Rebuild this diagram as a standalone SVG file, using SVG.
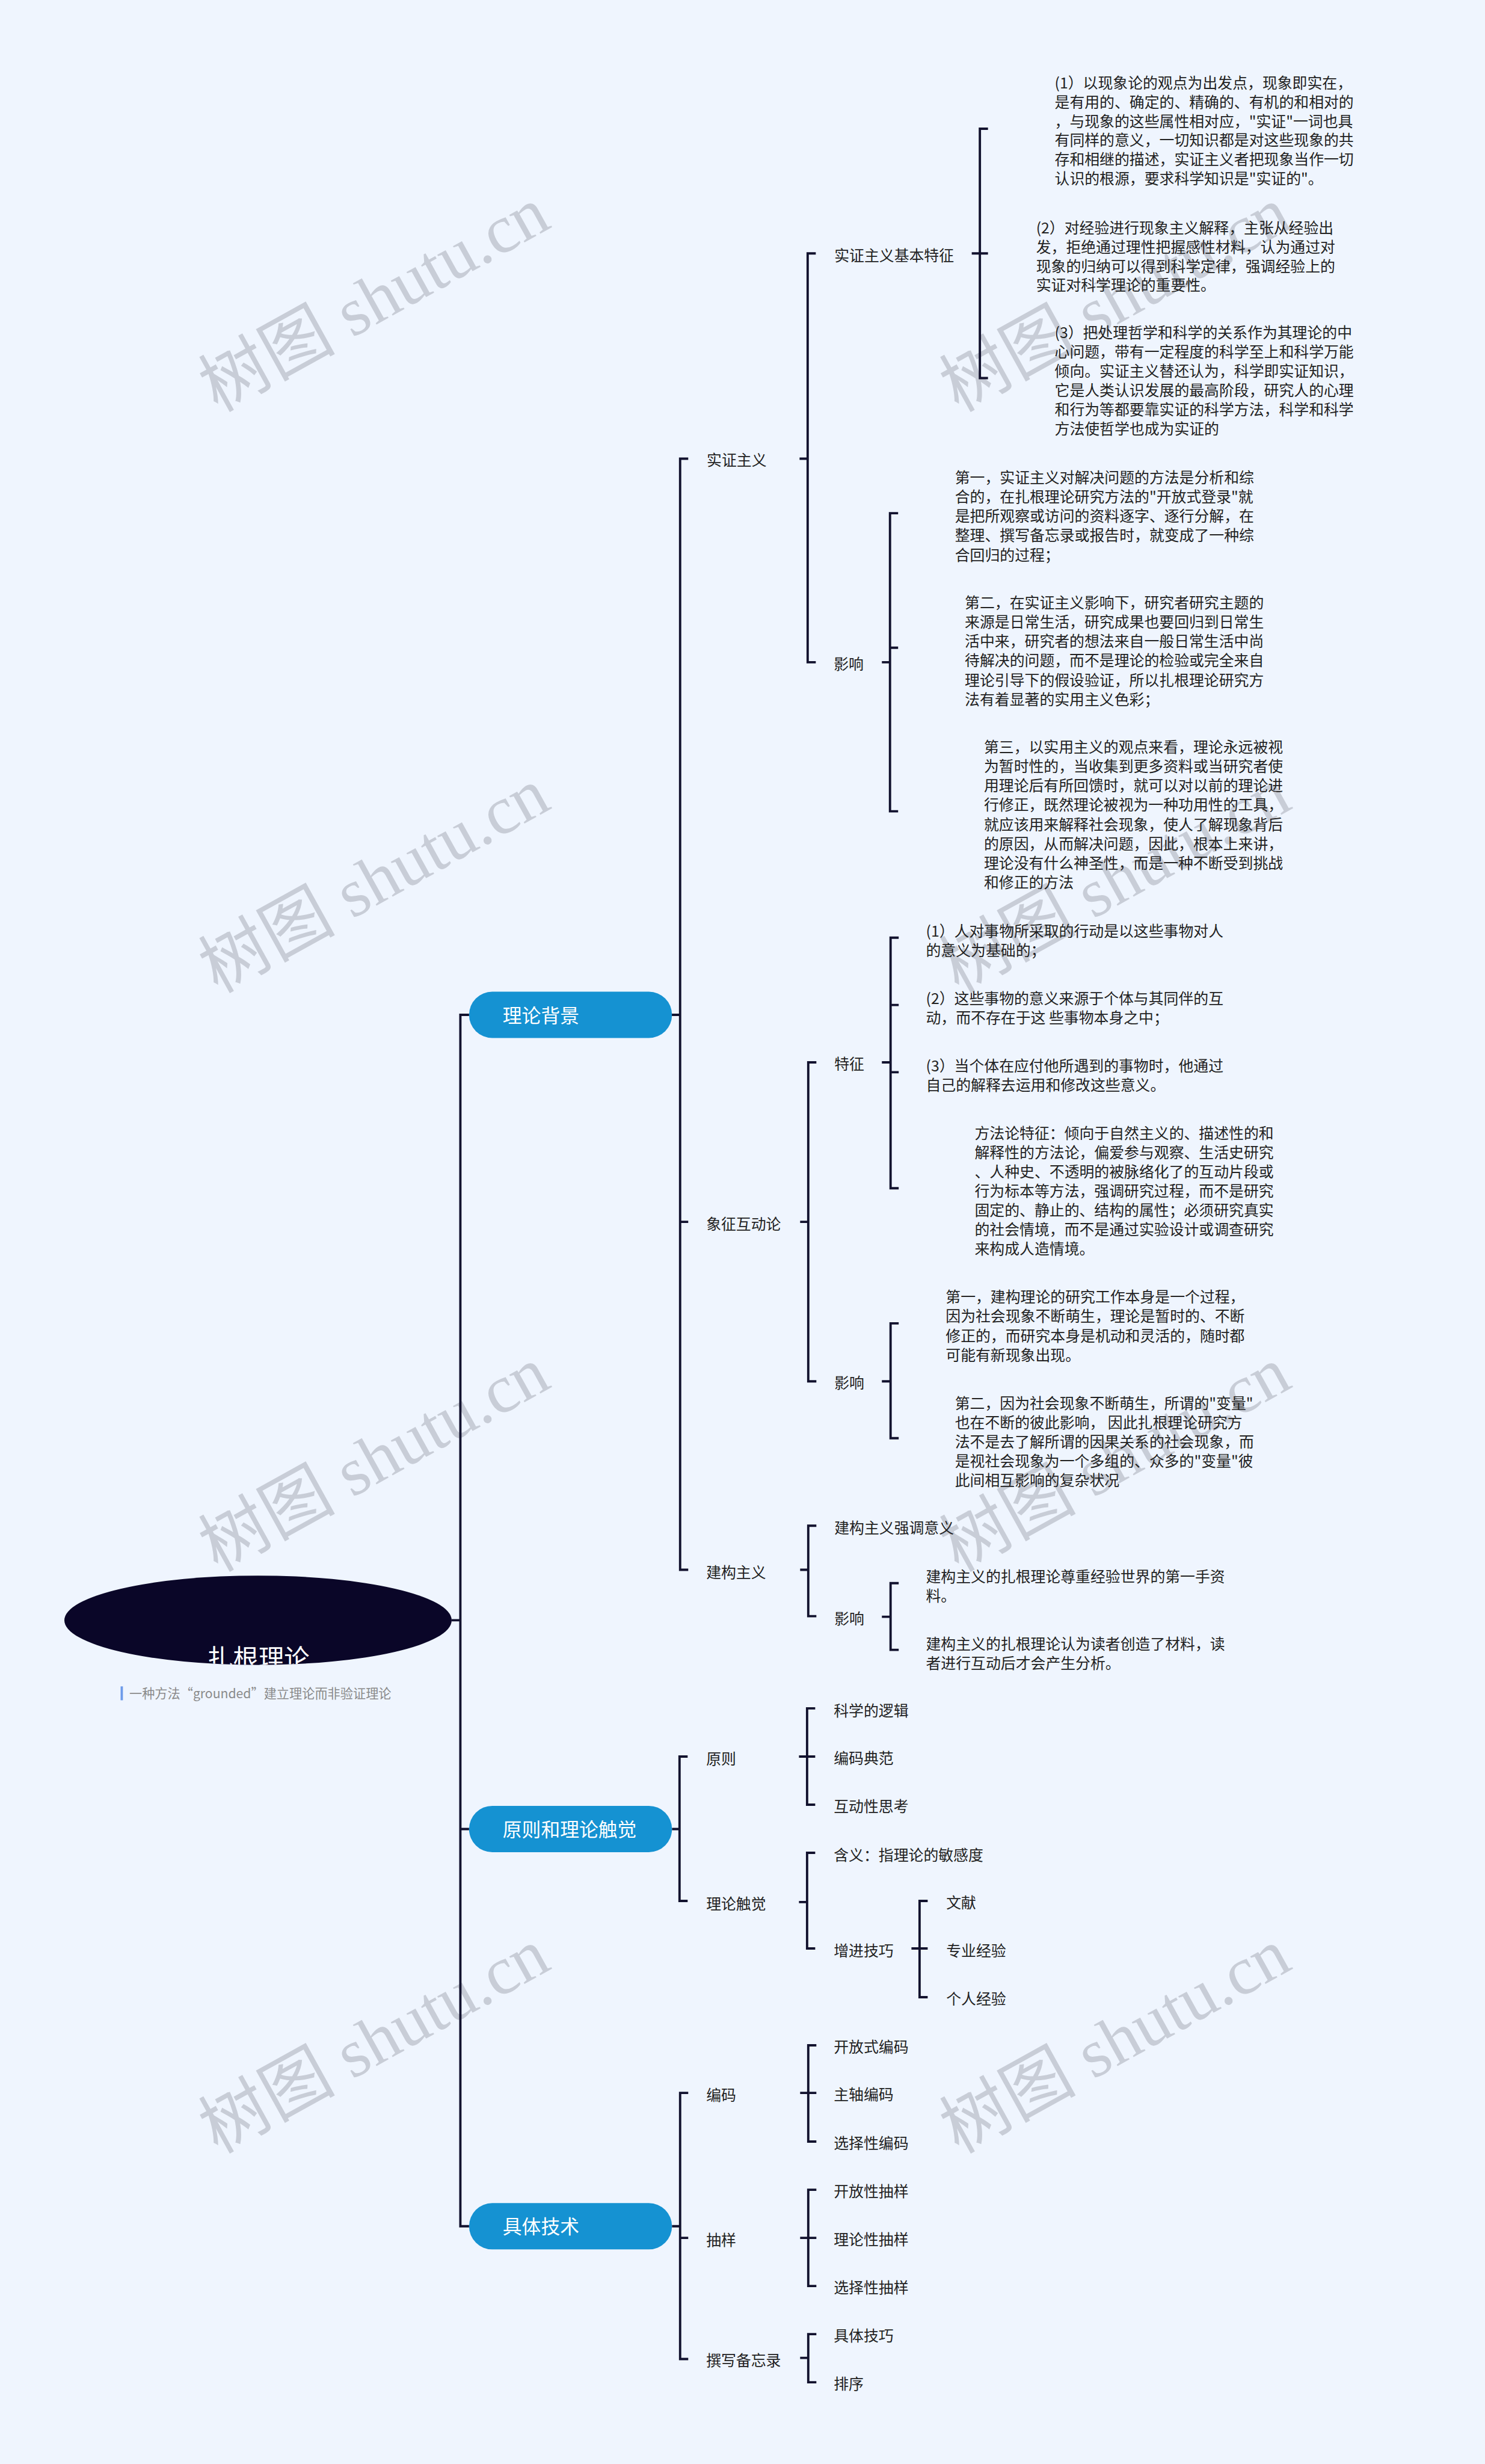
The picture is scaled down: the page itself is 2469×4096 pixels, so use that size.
<svg xmlns="http://www.w3.org/2000/svg" width="2469" height="4096" viewBox="0 0 2469 4096">
<style>
.ln{fill:none;stroke:#12122E;stroke-width:4;stroke-linecap:butt;stroke-linejoin:miter}
.t{font-family:"Noto Sans CJK SC","Noto Sans",sans-serif;font-size:25.8px;fill:#222222}
.nt{font-family:"Noto Sans CJK SC","Noto Sans",sans-serif;font-size:33px;fill:#ffffff}
.node{fill:#1592D2}
.wm{font-family:"Liberation Serif","Noto Sans CJK SC",serif;font-size:118px;fill:#C8CDD7}
.sub{font-family:"Noto Sans CJK SC","Noto Sans",sans-serif;font-size:22px;fill:#8a8a8a}
</style>
<defs>
<clipPath id="rootclip"><ellipse cx="445" cy="2794" rx="334" ry="77"/></clipPath>
</defs>
<rect x="0" y="0" width="2469" height="4096" fill="#EFF5FE"/>
<g transform="scale(0.964)">
<g id="watermarks">
<text class="wm" x="646" y="556" text-anchor="middle" transform="rotate(-29 646 518)">树图 shutu.cn</text>
<text class="wm" x="1924" y="556" text-anchor="middle" transform="rotate(-29 1924 518)">树图 shutu.cn</text>
<text class="wm" x="646" y="1558" text-anchor="middle" transform="rotate(-29 646 1520)">树图 shutu.cn</text>
<text class="wm" x="1924" y="1558" text-anchor="middle" transform="rotate(-29 1924 1520)">树图 shutu.cn</text>
<text class="wm" x="646" y="2556" text-anchor="middle" transform="rotate(-29 646 2518)">树图 shutu.cn</text>
<text class="wm" x="1924" y="2556" text-anchor="middle" transform="rotate(-29 1924 2518)">树图 shutu.cn</text>
<text class="wm" x="646" y="3559" text-anchor="middle" transform="rotate(-29 646 3521)">树图 shutu.cn</text>
<text class="wm" x="1924" y="3559" text-anchor="middle" transform="rotate(-29 1924 3521)">树图 shutu.cn</text>
</g>
<g id="connectors">
<path class="ln" d="M779 2794H794 M809 1750H794V3839H809 M794 3154H809"/>
<path class="ln" d="M1158 1750H1173 M1187 791H1173V2707H1187 M1173 2107H1187"/>
<path class="ln" d="M1379 791H1393 M1407 437H1393V1142H1407"/>
<path class="ln" d="M1676 437H1690 M1704 222H1690V652H1704 M1690 437H1704"/>
<path class="ln" d="M1521 1142H1535 M1549 885H1535V1399H1549 M1535 1117H1549"/>
<path class="ln" d="M1380 2107H1394 M1408 1832H1394V2382H1408"/>
<path class="ln" d="M1521 1832H1536 M1550 1617H1536V2049H1550 M1536 1733H1550 M1536 1849H1550"/>
<path class="ln" d="M1521 2382H1536 M1550 2282H1536V2480H1550"/>
<path class="ln" d="M1380 2707H1394 M1408 2631H1394V2787H1408"/>
<path class="ln" d="M1521 2788H1536 M1550 2730H1536V2845H1550"/>
<path class="ln" d="M1159 3154H1172 M1186 3029H1172V3278H1186"/>
<path class="ln" d="M1378 3029H1392 M1406 2946H1392V3112H1406 M1392 3029H1406"/>
<path class="ln" d="M1378 3280H1392 M1406 3195H1392V3360H1406"/>
<path class="ln" d="M1572 3360H1586 M1600 3278H1586V3444H1600 M1586 3360H1600"/>
<path class="ln" d="M1159 3839H1173 M1187 3609H1173V4068H1187 M1173 3859H1187"/>
<path class="ln" d="M1380 3609H1394 M1408 3527H1394V3693H1408 M1394 3609H1408"/>
<path class="ln" d="M1380 3859H1394 M1408 3776H1394V3942H1408 M1394 3859H1408"/>
<path class="ln" d="M1380 4066H1394 M1408 4025H1394V4108H1408"/>
</g>
<g id="root">
<ellipse cx="445" cy="2794" rx="334" ry="77" fill="#0A0628"/>
<text x="446" y="2876" text-anchor="middle" clip-path="url(#rootclip)" font-family="'Noto Sans CJK SC','Noto Sans',sans-serif" font-size="44" fill="#ffffff">扎根理论</text>
<rect x="208" y="2908" width="4" height="24" fill="#6D9BEA"/>
<text class="sub" x="223" y="2928">一种方法“grounded”建立理论而非验证理论</text>
</g>
<g id="n-lilunbeijing"><rect class="node" x="809" y="1710" width="350" height="80" rx="40"/><text class="nt" x="867" y="1763">理论背景</text></g>
<g id="n-yuanze-chujue"><rect class="node" x="809" y="3114" width="350" height="80" rx="40"/><text class="nt" x="867" y="3167">原则和理论触觉</text></g>
<g id="n-jutijishu"><rect class="node" x="809" y="3799" width="350" height="80" rx="40"/><text class="nt" x="867" y="3852">具体技术</text></g>

<g transform="translate(0,3)">
<g id="n-shizheng"><text class="t" x="1219" y="800">实证主义</text></g>
<g id="n-shizheng-tezheng"><text class="t" x="1439" y="447">实证主义基本特征</text></g>
<g id="n-sz-t1"><text class="t" x="1819" y="149.5"><tspan x="1819">(1）以现象论的观点为出发点，现象即实在，</tspan><tspan x="1819" dy="33">是有用的、确定的、精确的、有机的和相对的</tspan><tspan x="1819" dy="33">，与现象的这些属性相对应，"实证"一词也具</tspan><tspan x="1819" dy="33">有同样的意义，一切知识都是对这些现象的共</tspan><tspan x="1819" dy="33">存和相继的描述，实证主义者把现象当作一切</tspan><tspan x="1819" dy="33">认识的根源，要求科学知识是"实证的"。</tspan></text></g>
<g id="n-sz-t2"><text class="t" x="1787" y="399.5"><tspan x="1787">(2）对经验进行现象主义解释，主张从经验出</tspan><tspan x="1787" dy="33">发，拒绝通过理性把握感性材料，认为通过对</tspan><tspan x="1787" dy="33">现象的归纳可以得到科学定律，强调经验上的</tspan><tspan x="1787" dy="33">实证对科学理论的重要性。</tspan></text></g>
<g id="n-sz-t3"><text class="t" x="1819" y="580.5"><tspan x="1819">(3）把处理哲学和科学的关系作为其理论的中</tspan><tspan x="1819" dy="33">心问题，带有一定程度的科学至上和科学万能</tspan><tspan x="1819" dy="33">倾向。实证主义替还认为，科学即实证知识，</tspan><tspan x="1819" dy="33">它是人类认识发展的最高阶段，研究人的心理</tspan><tspan x="1819" dy="33">和行为等都要靠实证的科学方法，科学和科学</tspan><tspan x="1819" dy="33">方法使哲学也成为实证的</tspan></text></g>
<g id="n-sz-yingxiang"><text class="t" x="1438" y="1151.5">影响</text></g>
<g id="n-sz-y1"><text class="t" x="1647" y="829.5"><tspan x="1647">第一，实证主义对解决问题的方法是分析和综</tspan><tspan x="1647" dy="33.5">合的，在扎根理论研究方法的"开放式登录"就</tspan><tspan x="1647" dy="33.5">是把所观察或访问的资料逐字、逐行分解，在</tspan><tspan x="1647" dy="33.5">整理、撰写备忘录或报告时，就变成了一种综</tspan><tspan x="1647" dy="33.5">合回归的过程；</tspan></text></g>
<g id="n-sz-y2"><text class="t" x="1664" y="1045.5"><tspan x="1664">第二，在实证主义影响下，研究者研究主题的</tspan><tspan x="1664" dy="33.4">来源是日常生活，研究成果也要回归到日常生</tspan><tspan x="1664" dy="33.4">活中来，研究者的想法来自一般日常生活中尚</tspan><tspan x="1664" dy="33.4">待解决的问题，而不是理论的检验或完全来自</tspan><tspan x="1664" dy="33.4">理论引导下的假设验证，所以扎根理论研究方</tspan><tspan x="1664" dy="33.4">法有着显著的实用主义色彩；</tspan></text></g>
<g id="n-sz-y3"><text class="t" x="1697" y="1294.5"><tspan x="1697">第三，以实用主义的观点来看，理论永远被视</tspan><tspan x="1697" dy="33.4">为暂时性的，当收集到更多资料或当研究者使</tspan><tspan x="1697" dy="33.4">用理论后有所回馈时，就可以对以前的理论进</tspan><tspan x="1697" dy="33.4">行修正，既然理论被视为一种功用性的工具，</tspan><tspan x="1697" dy="33.4">就应该用来解释社会现象，使人了解现象背后</tspan><tspan x="1697" dy="33.4">的原因，从而解决问题，因此，根本上来讲，</tspan><tspan x="1697" dy="33.4">理论没有什么神圣性，而是一种不断受到挑战</tspan><tspan x="1697" dy="33.4">和修正的方法</tspan></text></g>

<g id="n-xiangzheng"><text class="t" x="1218" y="2117.5">象征互动论</text></g>
<g id="n-xz-tezheng"><text class="t" x="1439" y="1841.5">特征</text></g>
<g id="n-xz-t1"><text class="t" x="1597" y="1612.5"><tspan x="1597">(1）人对事物所采取的行动是以这些事物对人</tspan><tspan x="1597" dy="33">的意义为基础的；</tspan></text></g>
<g id="n-xz-t2"><text class="t" x="1597" y="1728.5"><tspan x="1597">(2）这些事物的意义来源于个体与其同伴的互</tspan><tspan x="1597" dy="33">动，而不存在于这 些事物本身之中；</tspan></text></g>
<g id="n-xz-t3"><text class="t" x="1597" y="1844.5"><tspan x="1597">(3）当个体在应付他所遇到的事物时，他通过</tspan><tspan x="1597" dy="33">自己的解释去运用和修改这些意义。</tspan></text></g>
<g id="n-xz-t4"><text class="t" x="1681" y="1960.5"><tspan x="1681">方法论特征：倾向于自然主义的、描述性的和</tspan><tspan x="1681" dy="33.3">解释性的方法论，偏爱参与观察、生活史研究</tspan><tspan x="1681" dy="33.3">、人种史、不透明的被脉络化了的互动片段或</tspan><tspan x="1681" dy="33.3">行为标本等方法，强调研究过程，而不是研究</tspan><tspan x="1681" dy="33.3">固定的、静止的、结构的属性；必须研究真实</tspan><tspan x="1681" dy="33.3">的社会情境，而不是通过实验设计或调查研究</tspan><tspan x="1681" dy="33.3">来构成人造情境。</tspan></text></g>
<g id="n-xz-yingxiang"><text class="t" x="1439" y="2391.5">影响</text></g>
<g id="n-xz-y1"><text class="t" x="1631" y="2242.5"><tspan x="1631">第一，建构理论的研究工作本身是一个过程，</tspan><tspan x="1631" dy="33.7">因为社会现象不断萌生，理论是暂时的、不断</tspan><tspan x="1631" dy="33.7">修正的，而研究本身是机动和灵活的，随时都</tspan><tspan x="1631" dy="33.7">可能有新现象出现。</tspan></text></g>
<g id="n-xz-y2"><text class="t" x="1647" y="2426.5"><tspan x="1647">第二，因为社会现象不断萌生，所谓的"变量"</tspan><tspan x="1647" dy="33.3">也在不断的彼此影响， 因此扎根理论研究方</tspan><tspan x="1647" dy="33.3">法不是去了解所谓的因果关系的社会现象，而</tspan><tspan x="1647" dy="33.3">是视社会现象为一个多组的、众多的"变量"彼</tspan><tspan x="1647" dy="33.3">此间相互影响的复杂状况</tspan></text></g>

<g id="n-jiangou"><text class="t" x="1218" y="2717.5">建构主义</text></g>
<g id="n-jg-qiangdiao"><text class="t" x="1439" y="2641.5">建构主义强调意义</text></g>
<g id="n-jg-yingxiang"><text class="t" x="1439" y="2797.5">影响</text></g>
<g id="n-jg-y1"><text class="t" x="1597" y="2725.5"><tspan x="1597">建构主义的扎根理论尊重经验世界的第一手资</tspan><tspan x="1597" dy="33">料。</tspan></text></g>
<g id="n-jg-y2"><text class="t" x="1597" y="2841.5"><tspan x="1597">建构主义的扎根理论认为读者创造了材料，读</tspan><tspan x="1597" dy="33">者进行互动后才会产生分析。</tspan></text></g>

<g id="n-yuanze"><text class="t" x="1218" y="3039.5">原则</text></g>
<g id="n-yz-1"><text class="t" x="1438" y="2956.5">科学的逻辑</text></g>
<g id="n-yz-2"><text class="t" x="1438" y="3038.5">编码典范</text></g>
<g id="n-yz-3"><text class="t" x="1438" y="3121.5">互动性思考</text></g>
<g id="n-chujue"><text class="t" x="1218" y="3289.5">理论触觉</text></g>
<g id="n-cj-hanyi"><text class="t" x="1438" y="3205.5">含义：指理论的敏感度</text></g>
<g id="n-cj-zengjin"><text class="t" x="1438" y="3370.5">增进技巧</text></g>
<g id="n-zj-1"><text class="t" x="1632" y="3287.5">文献</text></g>
<g id="n-zj-2"><text class="t" x="1632" y="3370.5">专业经验</text></g>
<g id="n-zj-3"><text class="t" x="1632" y="3453.5">个人经验</text></g>

<g id="n-bianma"><text class="t" x="1218" y="3619.5">编码</text></g>
<g id="n-bm-1"><text class="t" x="1438" y="3536.5">开放式编码</text></g>
<g id="n-bm-2"><text class="t" x="1438" y="3618.5">主轴编码</text></g>
<g id="n-bm-3"><text class="t" x="1438" y="3702.5">选择性编码</text></g>
<g id="n-chouyang"><text class="t" x="1218" y="3869.5">抽样</text></g>
<g id="n-cy-1"><text class="t" x="1438" y="3785.5">开放性抽样</text></g>
<g id="n-cy-2"><text class="t" x="1438" y="3868.5">理论性抽样</text></g>
<g id="n-cy-3"><text class="t" x="1438" y="3951.5">选择性抽样</text></g>
<g id="n-beiwanglu"><text class="t" x="1218" y="4076.5">撰写备忘录</text></g>
<g id="n-bwl-1"><text class="t" x="1438" y="4034.5">具体技巧</text></g>
<g id="n-bwl-2"><text class="t" x="1438" y="4117.5">排序</text></g>
</g>
</g>
</svg>
